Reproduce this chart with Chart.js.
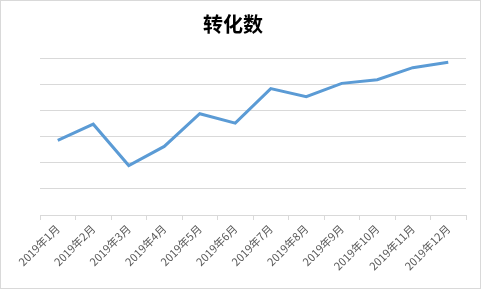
<!DOCTYPE html>
<html><head><meta charset="utf-8">
<script src="https://cdn.jsdelivr.net/npm/chart.js@4/dist/chart.umd.min.js"></script>
<style>html,body{margin:0;padding:0;background:#fff}#w{width:481px;height:289px;position:relative}</style>
</head><body><div id="w"><canvas id="c" width="481" height="289"></canvas></div>
<script>
const title = "转化数";
const categories = ["2019年1月","2019年2月","2019年3月","2019年4月","2019年5月","2019年6月","2019年7月","2019年8月","2019年9月","2019年10月","2019年11月","2019年12月"];
const values = [28.5, 34.7, 18.9, 26.2, 38.7, 35.1, 48.3, 45.2, 50.3, 51.7, 56.3, 58.4];
const yMin = 0, yMax = 60, yStep = 10;

const frame = {
  id: 'frame',
  beforeDraw(chart) {
    const ctx = chart.ctx;
    ctx.save();
    ctx.fillStyle = '#ffffff';
    ctx.fillRect(0, 0, chart.width, chart.height);
    ctx.strokeStyle = '#d9d9d9';
    ctx.lineWidth = 1;
    ctx.strokeRect(0.5, 0.5, chart.width - 1, chart.height - 1);
    ctx.restore();
  }
};

new Chart(document.getElementById('c'), {
  type: 'line',
  data: {
    labels: categories,
    datasets: [{
      data: values,
      borderColor: '#5B9BD5',
      borderWidth: 3,
      pointRadius: 0,
      tension: 0,
      fill: false
    }]
  },
  options: {
    responsive: false,
    animation: false,
    layout: { padding: { left: 0, right: 15, top: 0, bottom: 0 } },
    plugins: {
      legend: { display: false },
      tooltip: { enabled: false },
      title: {
        display: true,
        text: title,
        color: '#000000',
        font: { family: '"Noto Sans CJK SC"', size: 20, weight: 'bold' },
        padding: { top: 12, bottom: 22 }
      }
    },
    scales: {
      x: {
        offset: true,
        grid: { offset: true, drawOnChartArea: false, drawTicks: true, tickLength: 5, color: '#d9d9d9' },
        border: { display: true, color: '#d9d9d9' },
        ticks: {
          autoSkip: false, maxRotation: 45, minRotation: 45,
          color: '#595959', padding: 2,
          font: { family: '"Noto Sans CJK SC"', size: 11 }
        },
        afterFit(scale) { scale.height = 74; }
      },
      y: {
        min: yMin, max: yMax,
        ticks: { stepSize: yStep, display: false },
        grid: { color: '#d9d9d9', drawTicks: false },
        border: { display: false },
        afterFit(scale) { scale.width = 40; }
      }
    }
  },
  plugins: [frame]
});
</script></body></html>
